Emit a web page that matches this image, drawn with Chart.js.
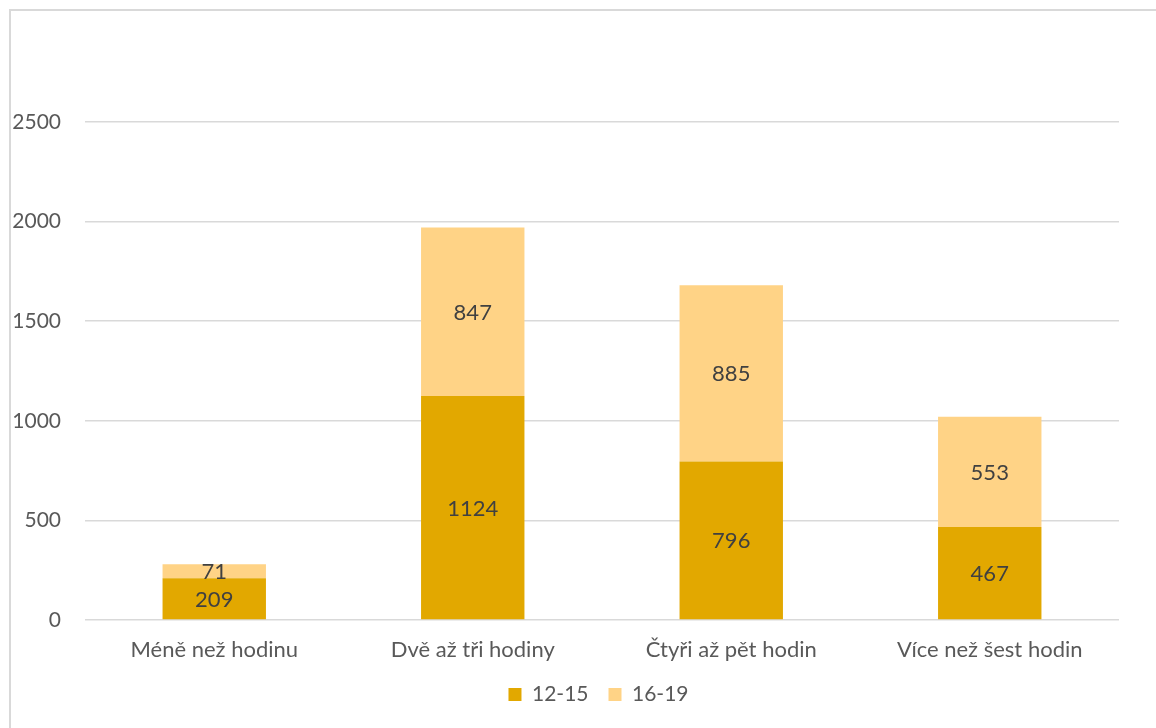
<!DOCTYPE html>
<html>
<head>
<meta charset="utf-8">
<script src="https://cdn.jsdelivr.net/npm/chart.js@4.4.1/dist/chart.umd.min.js"></script>
<style>
  html, body { margin: 0; padding: 0; background: #fff; overflow: hidden; }
  #frame {
    position: absolute; left: 9px; top: 9px; width: 1300px; height: 900px;
    border: 2px solid #d9d9d9; box-sizing: border-box;
  }
  #wrap { position: absolute; left: 0; top: 0; width: 1156px; height: 728px; }
</style>
</head>
<body>
<div id="frame"></div>
<div id="wrap"><canvas id="chart"></canvas></div>
<script>
// Data
const categories = ["Méně než hodinu", "Dvě až tři hodiny", "Čtyři až pět hodin", "Více než šest hodin"];
const seriesNames = ["12-15", "16-19"];
const values1215 = [209, 1124, 796, 467];
const values1619 = [71, 847, 885, 553];
const yTicks = [0, 500, 1000, 1500, 2000, 2500];

const FONT = "Lato, 'Open Sans', sans-serif";

// Simple inline plugin: values in the middle of each bar segment
const barLabels = {
  id: "barLabels",
  afterDatasetsDraw(chart) {
    const ctx = chart.ctx;
    ctx.save();
    ctx.font = "22px " + FONT;
    ctx.fillStyle = "#404040";
    ctx.textAlign = "center";
    ctx.textBaseline = "middle";
    chart.data.datasets.forEach((ds, i) => {
      const meta = chart.getDatasetMeta(i);
      meta.data.forEach((bar, j) => {
        const mid = (bar.y + bar.base) / 2;
        ctx.fillText(String(ds.data[j]), bar.x, mid + 1);
      });
    });
    ctx.restore();
  }
};

// legend sits a bit right of the centre in the original
const legendShift = {
  id: "legendShift",
  afterLayout(chart) {
    chart.legend.left += 39;
    chart.legend.right += 39;
  }
};

const ctx = document.getElementById("chart").getContext("2d");
new Chart(ctx, {
  type: "bar",
  data: {
    labels: categories,
    datasets: [
      {
        label: seriesNames[0],
        data: values1215,
        backgroundColor: "#E2A800",
        borderWidth: 0,
        categoryPercentage: 0.8,
        barPercentage: 0.5
      },
      {
        label: seriesNames[1],
        data: values1619,
        backgroundColor: "#FFD386",
        borderWidth: 0,
        categoryPercentage: 0.8,
        barPercentage: 0.5
      }
    ]
  },
  options: {
    responsive: true,
    maintainAspectRatio: false,
    animation: false,
    layout: { padding: { left: 0, right: 37, top: 122, bottom: 13 } },
    scales: {
      x: {
        stacked: true,
        afterFit(scale) { scale.height = 44; },
        grid: { display: false, drawTicks: false },
        border: { display: false },
        ticks: { color: "#595959", font: { family: FONT, size: 22 }, padding: 17 }
      },
      y: {
        stacked: true,
        min: 0,
        max: 2500,
        afterBuildTicks(scale) {
          scale.ticks = yTicks.map(v => ({ value: v }));
        },
        afterFit(scale) { scale.width = 85; },
        grid: { color: "#d9d9d9", lineWidth: 1.5, drawTicks: false },
        border: { display: false },
        ticks: {
          color: "#595959",
          font: { family: FONT, size: 21 },
          padding: 24,
          callback: v => String(v)
        }
      }
    },
    plugins: {
      legend: {
        position: "bottom",
        labels: {
          color: "#595959",
          font: { family: FONT, size: 21 },
          boxWidth: 13,
          boxHeight: 13,
          padding: 20
        }
      },
      tooltip: { enabled: false }
    }
  },
  plugins: [barLabels, legendShift]
});
</script>
</body>
</html>
